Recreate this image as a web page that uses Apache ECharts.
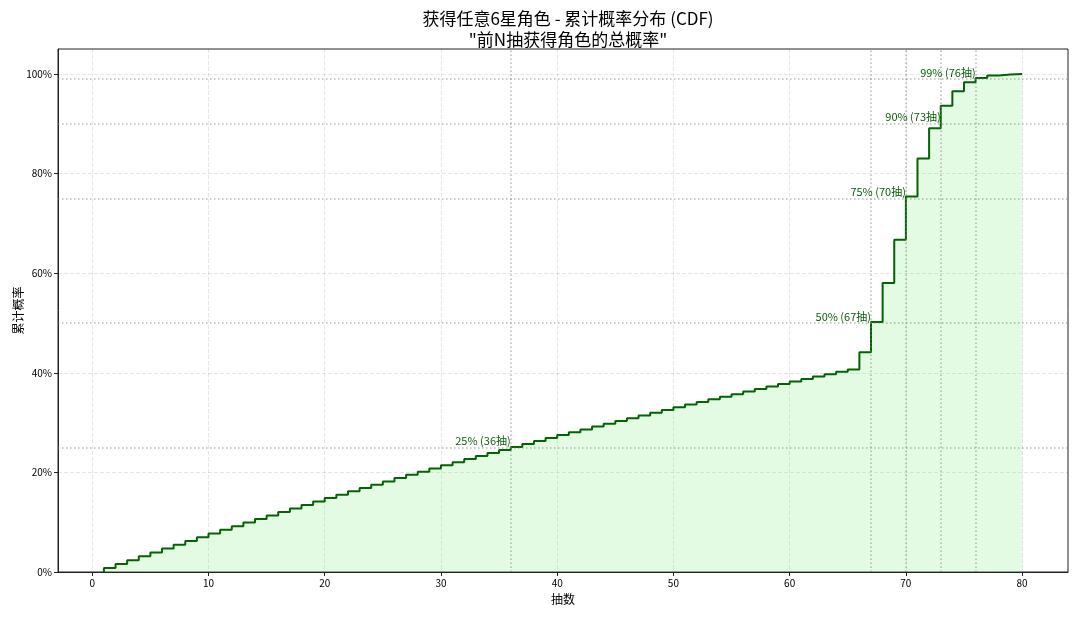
<!DOCTYPE html>
<html>
<head>
<meta charset="utf-8">
<script src="https://cdn.jsdelivr.net/npm/echarts@6/dist/echarts.min.js"></script>
<style>html,body{margin:0;padding:0;background:#fff;}#chart{width:1080px;height:617px;}</style>
</head>
<body>
<div id="chart"></div>
<script>
// Pull number (抽数)
var pulls = [1,2,3,4,5,6,7,8,9,10,11,12,13,14,15,16,17,18,19,20,
  21,22,23,24,25,26,27,28,29,30,31,32,33,34,35,36,37,38,39,40,
  41,42,43,44,45,46,47,48,49,50,51,52,53,54,55,56,57,58,59,60,
  61,62,63,64,65,66,67,68,69,70,71,72,73,74,75,76,77,78,79,80];
// Cumulative probability (%) after N pulls
var cumProb = [0.80,1.59,2.38,3.16,3.94,4.71,5.47,6.22,6.97,7.72,
  8.46,9.19,9.92,10.64,11.35,12.06,12.76,13.46,14.15,14.84,
  15.52,16.20,16.87,17.53,18.19,18.85,19.50,20.14,20.78,21.41,
  22.04,22.67,23.28,23.90,24.51,25.11,25.71,26.30,26.89,27.48,
  28.06,28.63,29.21,29.77,30.33,30.89,31.44,31.99,32.54,33.08,
  33.61,34.14,34.67,35.19,35.71,36.23,36.74,37.24,37.74,38.24,
  38.74,39.23,39.71,40.19,40.67,44.1,50.2,58.0,66.7,75.4,
  83.0,89.1,93.6,96.5,98.3,99.2,99.7,99.9,100.0,100.0];
// Milestones
var thresholdPct = [25, 50, 75, 90, 99];
var thresholdPull = [36, 67, 70, 73, 76];
// Tick labels
var xTicks = [0, 10, 20, 30, 40, 50, 60, 70, 80];
var yTicks = [0, 20, 40, 60, 80, 100];

var stepData = [[pulls[0], 0]];
for (var i = 0; i < pulls.length; i++) stepData.push([pulls[i], cumProb[i]]);

var labelData = thresholdPct.map(function (p, i) {
  return { value: [thresholdPull[i], p], name: p + '% (' + thresholdPull[i] + '抽)' };
});

var font = '"Noto Sans CJK SC", "DejaVu Sans", sans-serif';
var chart = echarts.init(document.getElementById('chart'), null, { renderer: 'canvas' });
chart.setOption({
  animation: false,
  backgroundColor: '#fff',
  title: {
    text: '获得任意6星角色 - 累计概率分布 (CDF)\n"前N抽获得角色的总概率"',
    left: 563, top: 3, textAlign: 'center',
    textStyle: { fontFamily: font, fontSize: 17, fontWeight: 'normal', color: '#000', lineHeight: 21 }
  },
  grid: { left: 58, right: 12, top: 49, bottom: 45, outerBoundsMode: 'none', containLabel: false,
    show: true, borderColor: '#222', borderWidth: 1, backgroundColor: 'transparent' },
  xAxis: {
    type: 'value', min: -2.95, max: 83.95,
    name: '抽数', nameLocation: 'middle', nameGap: 21, nameMoveOverlap: false,
    nameTextStyle: { fontFamily: font, fontSize: 12, color: '#000' },
    axisLine: { show: true, onZero: false, lineStyle: { color: '#222', width: 1 } },
    axisTick: { show: true, inside: false, length: 4, customValues: xTicks, lineStyle: { color: '#222' } },
    axisLabel: { customValues: xTicks, fontFamily: font, fontSize: 10, color: '#000', margin: 6 },
    splitLine: { show: true, lineStyle: { color: 'rgba(0,0,0,0.13)', type: [4, 2], width: 0.8 } }
  },
  yAxis: {
    type: 'value', min: 0, max: 105,
    name: '累计概率', nameLocation: 'middle', nameGap: 34, nameMoveOverlap: false,
    nameTextStyle: { fontFamily: font, fontSize: 12, color: '#000' },
    axisLine: { show: true, onZero: false, lineStyle: { color: '#222', width: 1 } },
    axisTick: { show: true, inside: false, length: 4, customValues: yTicks, lineStyle: { color: '#222' } },
    axisLabel: { customValues: yTicks, formatter: '{value}%', fontFamily: font, fontSize: 10, color: '#000', margin: 6 },
    splitLine: { show: true, lineStyle: { color: 'rgba(0,0,0,0.13)', type: [4, 2], width: 0.8 } }
  },
  series: [
    {
      type: 'line', data: stepData, step: 'end', showSymbol: false, symbol: 'none',
      lineStyle: { color: '#006400', width: 2 },
      areaStyle: { color: 'rgba(144,238,144,0.36)', origin: 'start' },
      z: 3
    },
    {
      type: 'line', data: [], silent: true, z: 4,
      markLine: {
        silent: true, symbol: 'none', label: { show: false },
        lineStyle: { color: 'rgba(128,128,128,0.55)', type: [1.5, 2.5], width: 1.5 },
        data: thresholdPct.map(function (p) { return { yAxis: p }; })
          .concat(thresholdPull.map(function (n) { return { xAxis: n }; }))
      }
    },
    {
      type: 'scatter', data: labelData, symbolSize: 0, silent: true, z: 5,
      itemStyle: { opacity: 1 },
      emphasis: { disabled: true },
      label: {
        show: true, position: [0, -1], align: 'right', verticalAlign: 'bottom',
        formatter: function (p) { return p.name; },
        fontFamily: font, fontSize: 11, color: '#0b5e0b', opacity: 1
      }
    }
  ]
});
</script>
</body>
</html>
